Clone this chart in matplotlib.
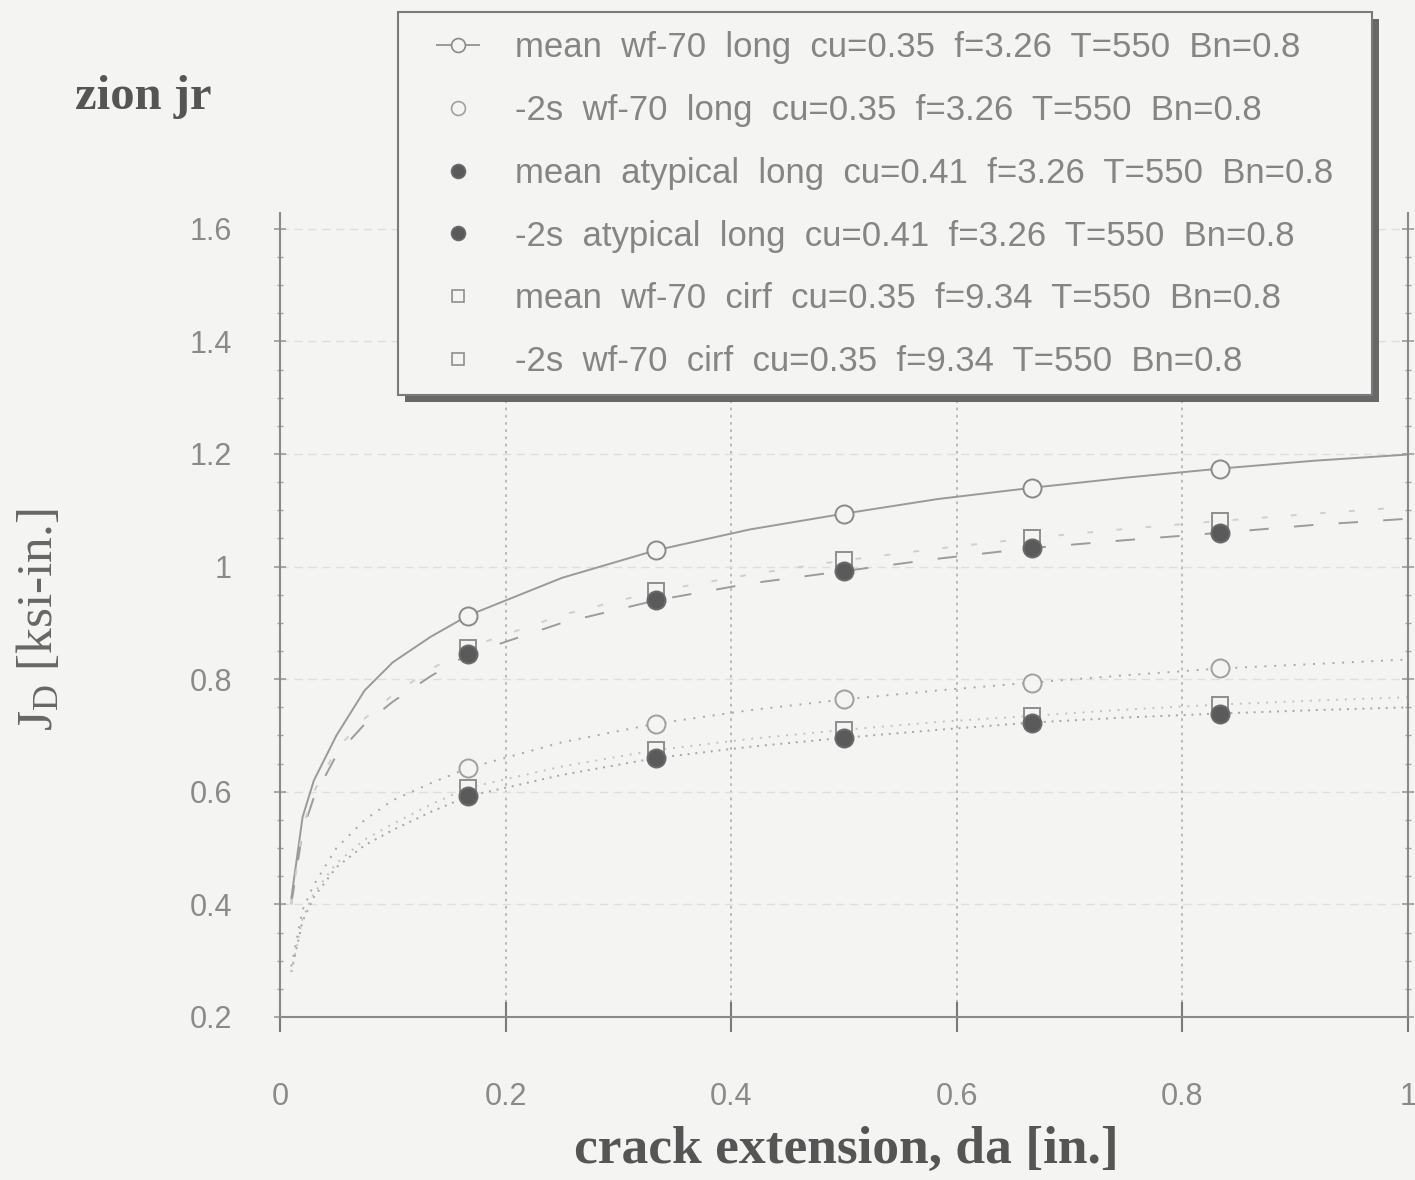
import matplotlib
matplotlib.use("Agg")
import matplotlib.pyplot as plt
from matplotlib.lines import Line2D
from matplotlib.patches import Rectangle
from matplotlib.ticker import MultipleLocator

# crack extension grid on which the J-R curves are tabulated
da = [0.01, 0.02, 0.03, 0.05, 0.075, 0.1, 0.1333, 0.1667, 0.25, 0.3333,
      0.4167, 0.5, 0.5833, 0.6667, 0.75, 0.8333, 0.9167, 1.0]
# positions in `da` that carry a symbol
marker_idx = [7, 9, 11, 13, 15]

# J_D [ksi-in.] for each case
j_mean_wf70_long = [0.41, 0.555, 0.62, 0.70, 0.78, 0.83, 0.875, 0.913, 0.98, 1.029,
                    1.066, 1.094, 1.12, 1.14, 1.158, 1.174, 1.188, 1.199]
j_m2s_wf70_long = [0.29, 0.39, 0.435, 0.50, 0.55, 0.585, 0.615, 0.642, 0.688, 0.721,
                   0.745, 0.764, 0.78, 0.794, 0.807, 0.819, 0.827, 0.835]
j_mean_atyp_long = [0.40, 0.53, 0.59, 0.665, 0.72, 0.76, 0.805, 0.844, 0.90, 0.94,
                    0.97, 0.992, 1.014, 1.033, 1.047, 1.06, 1.074, 1.085]
j_m2s_atyp_long = [0.28, 0.37, 0.413, 0.466, 0.505, 0.532, 0.564, 0.592, 0.63, 0.66,
                   0.68, 0.696, 0.71, 0.723, 0.732, 0.739, 0.745, 0.75]
j_mean_wf70_cirf = [0.40, 0.535, 0.60, 0.675, 0.73, 0.772, 0.817, 0.856, 0.914, 0.956,
                    0.986, 1.011, 1.032, 1.051, 1.067, 1.081, 1.094, 1.106]
j_m2s_wf70_cirf = [0.28, 0.375, 0.42, 0.473, 0.515, 0.543, 0.577, 0.607, 0.645, 0.674,
                   0.694, 0.71, 0.724, 0.735, 0.746, 0.755, 0.762, 0.768]

labels = [
    "mean  wf-70  long  cu=0.35  f=3.26  T=550  Bn=0.8",
    "-2s  wf-70  long  cu=0.35  f=3.26  T=550  Bn=0.8",
    "mean  atypical  long  cu=0.41  f=3.26  T=550  Bn=0.8",
    "-2s  atypical  long  cu=0.41  f=3.26  T=550  Bn=0.8",
    "mean  wf-70  cirf  cu=0.35  f=9.34  T=550  Bn=0.8",
    "-2s  wf-70  cirf  cu=0.35  f=9.34  T=550  Bn=0.8",
]

x_ticks = [0, 0.2, 0.4, 0.6, 0.8, 1.0]
x_tick_labels = ["0", "0.2", "0.4", "0.6", "0.8", "1"]
y_ticks = [0.2, 0.4, 0.6, 0.8, 1.0, 1.2, 1.4, 1.6]
y_tick_labels = ["0.2", "0.4", "0.6", "0.8", "1", "1.2", "1.4", "1.6"]

BG = "#f4f4f2"
W, H = 1415, 1180
SANS = ["Liberation Sans", "DejaVu Sans"]
SERIF = ["Liberation Serif", "DejaVu Serif"]

fig = plt.figure(figsize=(W / 100, H / 100), dpi=100, facecolor=BG)
ax = fig.add_axes([280 / W, 1 - 1017 / H, (1408 - 280) / W, (1017 - 213) / H],
                  facecolor=BG)

series = [
    # values, line style, line colour, marker, face, edge, z
    (j_mean_wf70_long, dict(ls="-"), "#9a9a9a", "o", BG, "#8a8a8a", 5),
    (j_m2s_wf70_long, dict(ls=(0, (1.0, 4.0))), "#a8a8a8", "o", BG, "#a0a0a0", 5),
    (j_mean_atyp_long, dict(ls=(0, (10, 13))), "#9c9c9c", "o", "#5a5a5a", "#6a6a6a", 6),
    (j_m2s_atyp_long, dict(ls=(0, (1.0, 3.0))), "#a5a5a5", "o", "#5a5a5a", "#6a6a6a", 6),
    (j_mean_wf70_cirf, dict(ls=(0, (3, 12))), "#cfcfcf", "s", BG, "#8f8f8f", 4),
    (j_m2s_wf70_cirf, dict(ls=(0, (1.0, 3.5))), "#c2c2c2", "s", BG, "#8f8f8f", 4),
]

handles = []
for k, (vals, lsd, lc, mk, mfc, mec, z) in enumerate(series):
    ax.plot(da, vals, color=lc, lw=1.4, zorder=2, **lsd)
    ax.plot([da[i] for i in marker_idx], [vals[i] for i in marker_idx],
            ls="none", marker=mk, ms=13 if mk == "o" else 11.5,
            mfc=mfc, mec=mec, mew=1.4, zorder=z)
    handles.append(Line2D([], [], color=lc, lw=1.4,
                          ls="-" if k == 0 else "none",
                          marker=mk, ms=10 if mk == "o" else 9,
                          mfc=mfc, mec=mec, mew=1.2))

ax.set_xlim(0, 1.0)
ax.set_ylim(0.2, 1.628)
ax.set_xticks(x_ticks)
ax.set_xticklabels(x_tick_labels)
ax.set_yticks(y_ticks)
ax.set_yticklabels(y_tick_labels)
ax.yaxis.set_minor_locator(MultipleLocator(0.05))

for side in ("left", "bottom", "right"):
    ax.spines[side].set_color("#8a8a8a")
    ax.spines[side].set_linewidth(1.5)
ax.spines["top"].set_visible(False)

ax.tick_params(axis="x", which="major", direction="inout", length=22, width=1.5,
               color="#7a7a7a", pad=36, labelsize=22, labelcolor="#8a8a8a")
ax.tick_params(axis="y", which="major", direction="inout", length=9, width=1.2,
               color="#9a9a9a", pad=30, labelsize=22, labelcolor="#8a8a8a",
               left=True, right=True)
ax.tick_params(axis="y", which="minor", direction="inout", length=4, width=1.0,
               color="#a0a0a0", left=True, right=True)
for lab in ax.get_xticklabels() + ax.get_yticklabels():
    lab.set_fontfamily(SANS)

ax.xaxis.grid(True, ls=(0, (1.5, 2.5)), color="#b4b4b4", lw=1.3)
ax.yaxis.grid(True, ls=(0, (6, 4)), color="#dedede", lw=1.0)
ax.set_axisbelow(True)

fig.text(75 / W, 1 - 97 / H, "zion jr", ha="left", va="center",
         fontfamily=SERIF, fontweight="bold", fontsize=35, color="#555555")
fig.text(846 / W, 1 - 1150 / H, "crack extension, da [in.]",
         ha="center", va="center", fontfamily=SERIF, fontweight="bold",
         fontsize=38.5, color="#555555")
fig.text(40 / W, 1 - 620 / H, r"$\mathregular{J_D}$ [ksi-in.]",
         rotation=90, ha="center", va="center", fontfamily=SERIF,
         fontsize=37, color="#666666")

# legend box with a heavy drop shadow on its right and lower edges
box_x0, box_y0, box_x1, box_y1 = 398, 12, 1372, 395
shadow = Rectangle(((box_x0 + 7) / W, 1 - (box_y1 + 7) / H),
                   (box_x1 - box_x0) / W, (box_y1 - box_y0) / H,
                   transform=fig.transFigure, facecolor="#686868",
                   edgecolor="none", zorder=5)
frame = Rectangle((box_x0 / W, 1 - box_y1 / H),
                  (box_x1 - box_x0) / W, (box_y1 - box_y0) / H,
                  transform=fig.transFigure, facecolor=BG,
                  edgecolor="#7a7a7a", lw=1.5, zorder=5.5)
fig.patches.extend([shadow, frame])

leg = fig.legend(handles, labels, loc="upper left",
                 bbox_to_anchor=(437 / W, 1 - 31 / H),
                 bbox_transform=fig.transFigure, borderaxespad=0,
                 prop=dict(family=SANS, size=25), labelcolor="#858585",
                 handlelength=1.2, handletextpad=1.04, borderpad=0,
                 labelspacing=0.86, frameon=False)
leg.set_zorder(6)

fig.savefig("out.png", dpi=100, facecolor=BG)
